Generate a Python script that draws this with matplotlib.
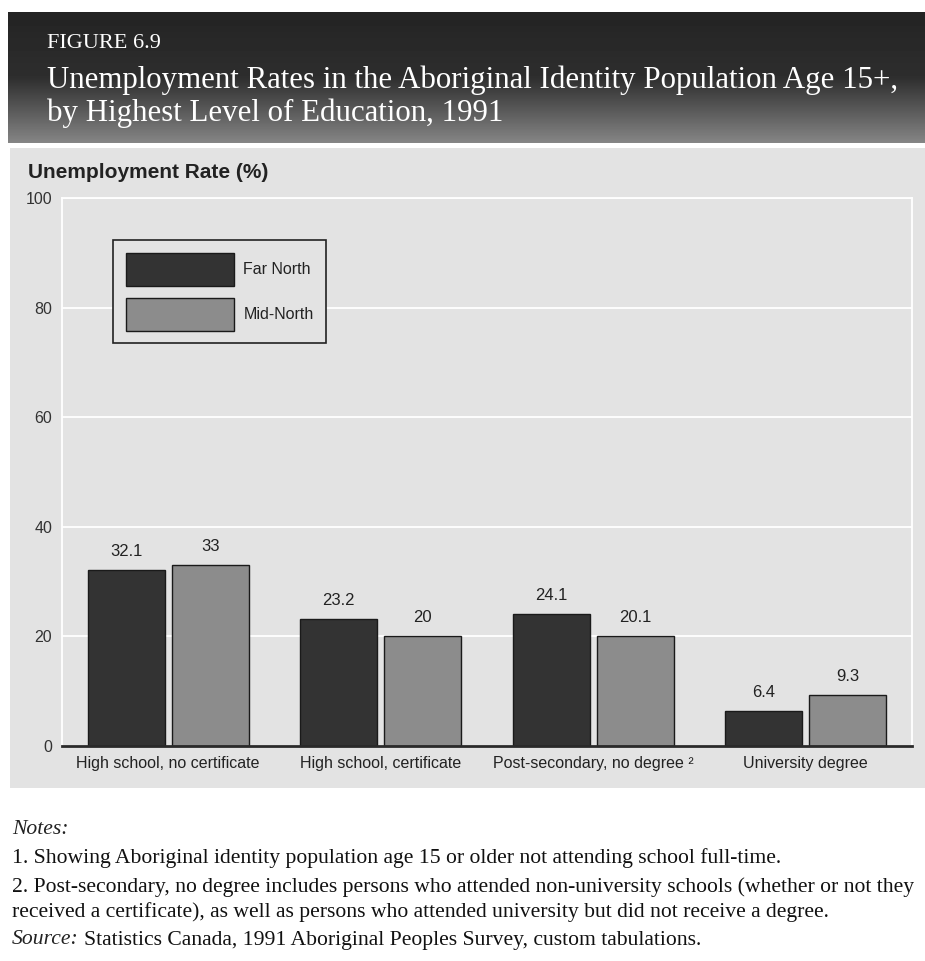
import numpy as np
import matplotlib
matplotlib.use("Agg")
import matplotlib.pyplot as plt
from matplotlib.patches import Rectangle

# data
categories = ["High school, no certificate", "High school, certificate",
              "Post-secondary, no degree \u00b2", "University degree"]
far_north = [32.1, 23.2, 24.1, 6.4]
mid_north = [33, 20, 20.1, 9.3]
series_names = ["Far North", "Mid-North"]
y_ticks = [0, 20, 40, 60, 80, 100]

notes = [
    "1. Showing Aboriginal identity population age 15 or older not attending school full-time.",
    "2. Post-secondary, no degree includes persons who attended non-university schools (whether or not they",
    "received a certificate), as well as persons who attended university but did not receive a degree.",
]
source = "Statistics Canada, 1991 Aboriginal Peoples Survey, custom tabulations."

W, H = 925, 961
SANS = ["Liberation Sans Narrow", "Liberation Sans", "DejaVu Sans"]
SERIF = ["Liberation Serif", "DejaVu Serif"]


def box(x0, y0, x1, y1):
    # pixel box (top-left origin) -> figure fraction rect
    return [x0 / W, 1 - y1 / H, (x1 - x0) / W, (y1 - y0) / H]


def fy(y):
    return 1 - y / H


fig = plt.figure(figsize=(W / 100, H / 100), dpi=100)
fig.patch.set_facecolor("white")

# header band with a dark-to-grey gradient
hdr = fig.add_axes(box(8, 12, 925, 143))
grad = np.concatenate([np.linspace(0.14, 0.18, 65), np.linspace(0.18, 0.52, 66)])
hdr.imshow(grad[:, None], aspect="auto", cmap="gray", vmin=0, vmax=1,
           extent=[0, 1, 0, 1])
hdr.axis("off")

fig.text(47 / W, fy(43), "FIGURE 6.9", color="white", fontsize=16,
         family=SERIF, va="center")
fig.text(47 / W, fy(80), "Unemployment Rates in the Aboriginal Identity Population Age 15+,",
         color="white", fontsize=22.2, family=SERIF, va="center")
fig.text(47 / W, fy(113), "by Highest Level of Education, 1991",
         color="white", fontsize=22.2, family=SERIF, va="center")

# light grey chart panel, behind the chart axes
fig.patches.append(Rectangle((10 / W, fy(788)), (925 - 10) / W, (788 - 148) / H,
                             transform=fig.transFigure, facecolor="#e3e3e3",
                             edgecolor="none", zorder=-1))

fig.text(28 / W, fy(173), "Unemployment Rate (%)", fontsize=15, fontweight="bold",
         family=["Liberation Sans", "DejaVu Sans"], color="#222222", va="center")

ax = fig.add_axes(box(62, 198, 912, 746))
ax.set_facecolor("none")
x = np.arange(len(categories))
bw = 0.362
off = 0.198
b1 = ax.bar(x - off, far_north, bw, color="#333333", edgecolor="#1a1a1a",
            linewidth=1, label=series_names[0], zorder=3)
b2 = ax.bar(x + off, mid_north, bw, color="#8c8c8c", edgecolor="#1a1a1a",
            linewidth=1, label=series_names[1], zorder=3)
for bars in (b1, b2):
    ax.bar_label(bars, fmt="%g", padding=8, fontsize=12, family=SANS, color="#222222")

ax.set_xlim(-0.5, 3.5)
ax.set_ylim(0, 100)
ax.set_yticks(y_ticks)
ax.set_xticks(x)
ax.set_xticklabels(categories, fontsize=11.5, family=SANS, color="#222222")
for t in ax.get_yticklabels():
    t.set_fontsize(11.5)
    t.set_family(SANS)
    t.set_color("#333333")
ax.tick_params(length=0)
ax.tick_params(axis="y", pad=7)
ax.tick_params(axis="x", pad=7)
ax.yaxis.grid(True, color="white", linewidth=1.3, zorder=0)
ax.set_axisbelow(True)
for side in ("left", "right", "top"):
    ax.spines[side].set_color("white")
    ax.spines[side].set_linewidth(1.3)
ax.spines["bottom"].set_color("#2a2a2a")
ax.spines["bottom"].set_linewidth(2)
ax.spines["bottom"].set_zorder(4)

leg = ax.legend(loc="upper left", bbox_to_anchor=((113 - 62) / 850, (746 - 240) / 548),
                borderaxespad=0, fancybox=False, frameon=True, edgecolor="#222222",
                facecolor="#e3e3e3", framealpha=1, handlelength=6.76, handleheight=2.8,
                handletextpad=0.6, labelspacing=0.75, borderpad=0.8,
                prop={"family": SANS, "size": 11.5})
leg.get_frame().set_linewidth(1.2)
for t in leg.get_texts():
    t.set_color("#222222")

# notes and source
NOTE_FS = 15.6
fig.text(12 / W, fy(829), "Notes:", fontsize=NOTE_FS, family=SERIF, style="italic",
         color="#222222", va="center")
for i, line in enumerate(notes):
    fig.text(12 / W, fy([858, 887, 912][i]), line, fontsize=NOTE_FS, family=SERIF,
             color="#111111", va="center")
src_lbl = fig.text(12 / W, fy(940), "Source:", fontsize=NOTE_FS, family=SERIF, style="italic",
                   color="#222222", va="center")
renderer = fig.canvas.get_renderer()
src_end = src_lbl.get_window_extent(renderer).x1
fig.text((src_end + 5) / W, fy(940), source, fontsize=NOTE_FS, family=SERIF,
         color="#111111", va="center")

fig.savefig("out.png", dpi=100)
